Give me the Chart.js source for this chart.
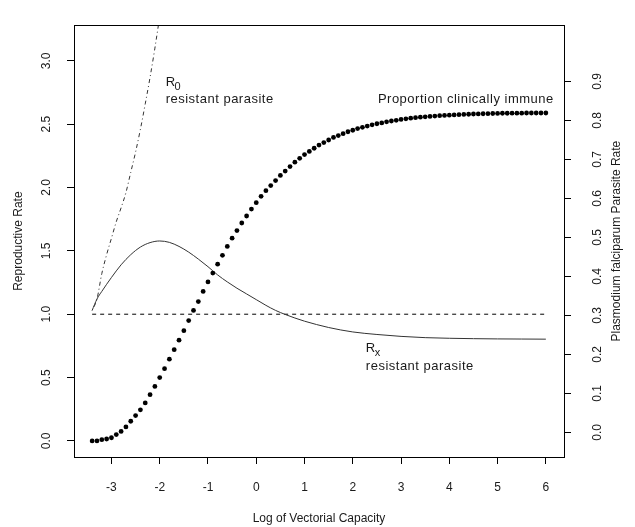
<!DOCTYPE html>
<html>
<head>
<meta charset="utf-8">
<script src="https://cdn.jsdelivr.net/npm/chart.js@4.4.0/dist/chart.umd.min.js"></script>
<style>
  html, body { margin: 0; padding: 0; background: #fff; }
  #wrap { width: 635px; height: 527px; }
</style>
</head>
<body>
<div id="wrap"><canvas id="chart"></canvas></div>
<script>
// proportion clinically immune, drawn against the reproductive-rate scale as in the source
const immuneX = [
  -3.4, -3.3, -3.2, -3.1, -3.0, -2.9, -2.8, -2.7, -2.6, -2.5, -2.4, -2.3, -2.2, -2.1, -2.0,
  -1.9, -1.8, -1.7, -1.6, -1.5, -1.4, -1.3, -1.2, -1.1, -1.0, -0.9, -0.8, -0.7, -0.6, -0.5,
  -0.4, -0.3, -0.2, -0.1, 0.0, 0.1, 0.2, 0.3, 0.4, 0.5, 0.6, 0.7, 0.8, 0.9, 1.0,
  1.1, 1.2, 1.3, 1.4, 1.5, 1.6, 1.7, 1.8, 1.9, 2.0, 2.1, 2.2, 2.3, 2.4, 2.5,
  2.6, 2.7, 2.8, 2.9, 3.0, 3.1, 3.2, 3.3, 3.4, 3.5, 3.6, 3.7, 3.8, 3.9, 4.0,
  4.1, 4.2, 4.3, 4.4, 4.5, 4.6, 4.7, 4.8, 4.9, 5.0, 5.1, 5.2, 5.3, 5.4, 5.5,
  5.6, 5.7, 5.8, 5.9, 6.0
];
const immuneY = [
  0.0, 0.0, 0.01, 0.015, 0.025, 0.05, 0.075, 0.11, 0.155, 0.2, 0.245, 0.3, 0.365, 0.43, 0.5,
  0.57, 0.645, 0.72, 0.795, 0.87, 0.95, 1.03, 1.1, 1.18, 1.255, 1.325, 1.395, 1.465, 1.535, 1.6,
  1.66, 1.72, 1.775, 1.83, 1.88, 1.93, 1.975, 2.015, 2.055, 2.095, 2.13, 2.165, 2.2, 2.23, 2.26,
  2.285, 2.31, 2.335, 2.355, 2.375, 2.395, 2.41, 2.425, 2.44, 2.452, 2.465, 2.475, 2.485, 2.495, 2.503,
  2.51, 2.518, 2.525, 2.53, 2.537, 2.542, 2.547, 2.551, 2.555, 2.558, 2.561, 2.564, 2.567, 2.569, 2.571,
  2.573, 2.575, 2.577, 2.578, 2.58, 2.581, 2.582, 2.583, 2.584, 2.585, 2.586, 2.586, 2.587, 2.587, 2.587,
  2.588, 2.588, 2.588, 2.588, 2.588
];

// Rx, resistant parasite
const rxX = [-3.4, -3.3, -3.2, -3.0, -2.8, -2.6, -2.4, -2.2, -2.0, -1.8, -1.6, -1.4, -1.2, -1.0, -0.8,
  -0.6, -0.4, -0.2, 0.0, 0.2, 0.4, 0.6, 0.8, 1.0, 1.5, 2.0, 2.5, 3.0, 3.5, 4.0, 4.5, 5.0, 5.5, 6.0];
const rxY = [1.03, 1.12, 1.18, 1.29, 1.39, 1.47, 1.53, 1.565, 1.578, 1.567, 1.535, 1.49, 1.435, 1.375, 1.31,
  1.255, 1.205, 1.16, 1.115, 1.07, 1.03, 0.998, 0.97, 0.945, 0.895, 0.86, 0.84, 0.825, 0.815, 0.81, 0.807, 0.805, 0.804, 0.803];

// R0, resistant parasite
const r0X = [-3.4, -3.3, -3.2, -3.1, -3.0, -2.9, -2.8, -2.7, -2.6, -2.5, -2.4, -2.3, -2.2, -2.1, -2.0];
const r0Y = [1.03, 1.12, 1.32, 1.47, 1.6, 1.73, 1.84, 1.96, 2.12, 2.28, 2.46, 2.66, 2.87, 3.1, 3.35];

const thresholdX = [-3.4, 6.0];
const thresholdY = [1.0, 1.0];

const xTicks = [-3, -2, -1, 0, 1, 2, 3, 4, 5, 6];
const rateTicks = [0, 0.5, 1, 1.5, 2, 2.5, 3];
const prTicks = [0, 0.1, 0.2, 0.3, 0.4, 0.5, 0.6, 0.7, 0.8, 0.9];

const pts = (xs, ys) => xs.map((x, i) => ({ x, y: ys[i] }));
const FONT = '"Liberation Sans", Arial, sans-serif';
const INK = '#1a1a1a';

const notesPlugin = {
  id: 'notes',
  afterDraw(chart) {
    const { ctx, chartArea: a, scales } = chart;
    const sx = v => scales.x.getPixelForValue(v);
    const sy = v => scales.y.getPixelForValue(v);
    ctx.save();
    // box round the plot
    ctx.strokeStyle = '#000';
    ctx.lineWidth = 1;
    ctx.strokeRect(Math.round(a.left) + 0.5, Math.round(a.top) + 0.5,
      Math.round(a.right - a.left), Math.round(a.bottom - a.top));

    ctx.fillStyle = INK;
    ctx.textBaseline = 'alphabetic';
    ctx.textAlign = 'left';
    ctx.letterSpacing = '0.5px';
    const sub = (main, s, x, y) => {
      ctx.font = `13px ${FONT}`;
      ctx.fillText(main, x, y);
      const w = ctx.measureText(main).width;
      ctx.font = `11px ${FONT}`;
      ctx.fillText(s, x + w - 1, y + 4);
    };
    // R0 label
    sub('R', '0', sx(-1.877), sy(2.8));
    ctx.font = `13px ${FONT}`;
    ctx.fillText('resistant parasite', sx(-1.877), sy(2.67));
    // Rx label
    sub('R', 'x', sx(2.27), sy(0.7));
    ctx.font = `13px ${FONT}`;
    ctx.fillText('resistant parasite', sx(2.27), sy(0.56));
    // immune label
    ctx.fillText('Proportion clinically immune', sx(2.52), sy(2.67));
    ctx.letterSpacing = '0px';

    // right axis title, reading bottom to top
    ctx.font = `12px ${FONT}`;
    ctx.textAlign = 'center';
    ctx.textBaseline = 'middle';
    ctx.translate(617, (a.top + a.bottom) / 2);
    ctx.rotate(-Math.PI / 2);
    ctx.fillText('Plasmodium falciparum Parasite Rate', 0, 0);
    ctx.restore();
  }
};

const tickGrid = { display: true, drawOnChartArea: false, drawTicks: true, tickLength: 7, color: '#000', lineWidth: 1 };

new Chart(document.getElementById('chart'), {
  type: 'scatter',
  data: {
    datasets: [
      {
        label: 'Proportion clinically immune',
        data: pts(immuneX, immuneY),
        showLine: false,
        pointRadius: 2.4,
        pointBackgroundColor: '#000',
        pointBorderWidth: 0,
        yAxisID: 'y',
      },
      {
        label: 'Rx resistant parasite',
        data: pts(rxX, rxY),
        showLine: true,
        pointRadius: 0,
        borderColor: '#333',
        borderWidth: 1,
        cubicInterpolationMode: 'monotone',
        yAxisID: 'y',
      },
      {
        label: 'R0 resistant parasite',
        data: pts(r0X, r0Y),
        showLine: true,
        pointRadius: 0,
        borderColor: '#333',
        borderWidth: 1,
        borderDash: [1, 3, 4, 3],
        cubicInterpolationMode: 'monotone',
        yAxisID: 'y',
      },
      {
        label: 'threshold',
        data: pts(thresholdX, thresholdY),
        showLine: true,
        pointRadius: 0,
        borderColor: '#000',
        borderWidth: 1,
        borderDash: [4, 4],
        yAxisID: 'y',
      },
    ],
  },
  plugins: [notesPlugin],
  options: {
    responsive: true,
    maintainAspectRatio: false,
    animation: false,
    layout: { padding: { top: 14, left: 0, right: 0, bottom: 0 } },
    plugins: { legend: { display: false }, tooltip: { enabled: false } },
    scales: {
      x: {
        type: 'linear',
        min: -3.776,
        max: 6.376,
        afterBuildTicks: s => { s.ticks = xTicks.map(value => ({ value })); },
        afterFit: s => { s.height = 70; },
        border: { display: false },
        grid: tickGrid,
        ticks: {
          color: INK, padding: 16,
          font: { family: FONT, size: 12 },
          callback: v => String(v),
        },
        title: {
          display: true, text: 'Log of Vectorial Capacity', color: INK,
          font: { family: FONT, size: 12 }, padding: { top: 0, bottom: 1 },
        },
      },
      y: {
        position: 'left',
        min: -0.127,
        max: 3.281,
        afterBuildTicks: s => { s.ticks = rateTicks.map(value => ({ value })); },
        afterFit: s => { s.width = 74; },
        border: { display: false },
        grid: tickGrid,
        ticks: {
          color: INK, padding: 12, minRotation: 90, maxRotation: 90, crossAlign: 'center',
          font: { family: FONT, size: 12 },
          callback: v => v.toFixed(1),
        },
        title: {
          display: true, text: 'Reproductive Rate', color: INK,
          font: { family: FONT, size: 12 }, padding: { top: 11, bottom: 0 },
        },
      },
      y2: {
        position: 'right',
        min: -0.063,
        max: 1.044,
        afterBuildTicks: s => { s.ticks = prTicks.map(value => ({ value })); },
        afterFit: s => { s.width = 71; },
        border: { display: false },
        grid: tickGrid,
        ticks: {
          color: INK, padding: 18, minRotation: 90, maxRotation: 90, crossAlign: 'center',
          font: { family: FONT, size: 12 },
          callback: v => v.toFixed(1),
        },
      },
    },
  },
});
</script>
</body>
</html>
